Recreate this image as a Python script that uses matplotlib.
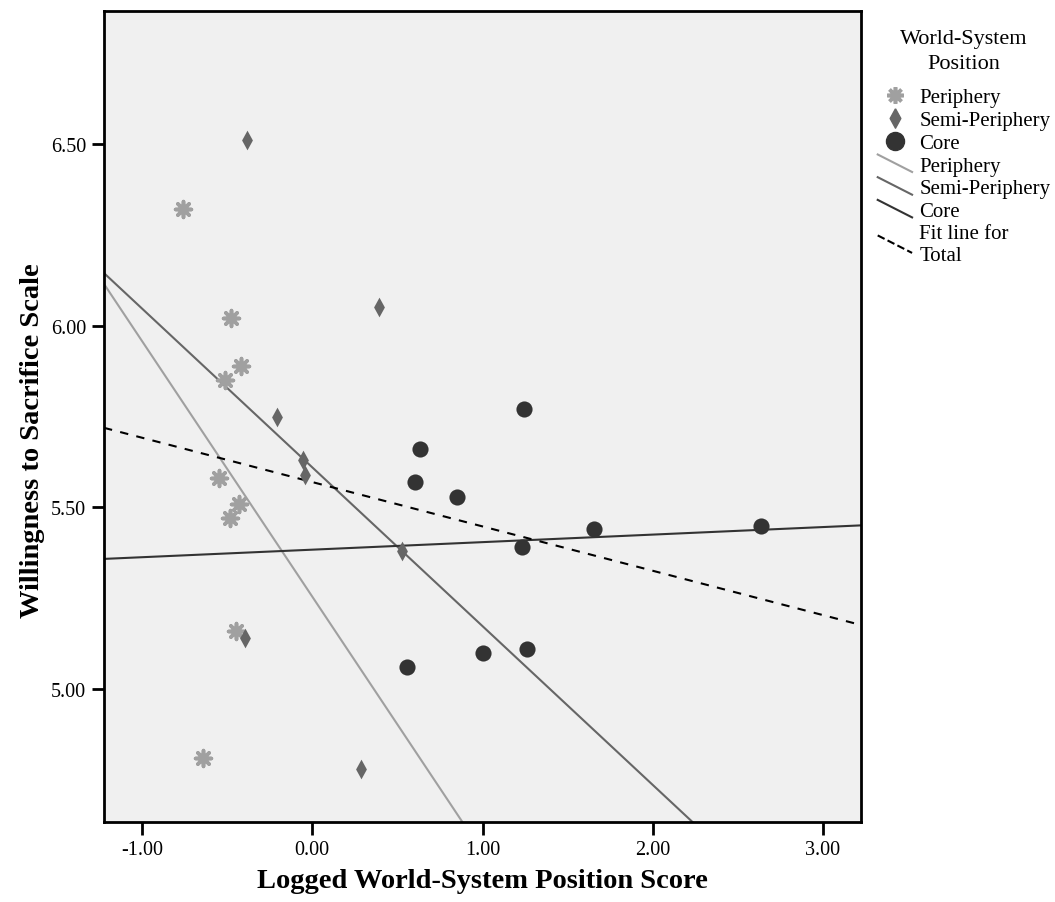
import numpy as np
import matplotlib
matplotlib.use("Agg")
import matplotlib.pyplot as plt
from matplotlib.lines import Line2D
from matplotlib.legend_handler import HandlerBase

# data
periph_x = [-0.76, -0.477, -0.419, -0.512, -0.548, -0.43, -0.483, -0.448, -0.642]
periph_y = [6.32, 6.02, 5.89, 5.85, 5.58, 5.51, 5.47, 5.16, 4.81]

semi_x = [-0.385, 0.390, -0.205, -0.053, -0.043, 0.525, -0.395, 0.285]
semi_y = [6.51, 6.05, 5.75, 5.63, 5.59, 5.38, 5.14, 4.78]

core_x = [1.242, 0.633, 0.605, 0.850, 1.653, 1.230, 1.003, 1.263, 0.558, 2.636]
core_y = [5.77, 5.66, 5.57, 5.53, 5.44, 5.39, 5.10, 5.11, 5.06, 5.45]

xticks = [-1.0, 0.0, 1.0, 2.0, 3.0]
yticks = [5.0, 5.5, 6.0, 6.5]

plt.rcParams['font.family'] = ['Liberation Serif', 'DejaVu Serif']

fig = plt.figure(figsize=(10.55, 9.03), dpi=100)
ax = fig.add_axes([0.0986, 0.0886, 0.7175, 0.8981])
ax.set_facecolor('#f0f0f0')

xlim = (-1.223, 3.223)
ylim = (4.635, 6.865)

c_per = '#a0a0a0'
c_semi = '#666666'
c_core = '#333333'

diamond = [(0, 1), (0.55, 0), (0, -1), (-0.55, 0), (0, 1)]

ax.scatter(periph_x, periph_y, marker=(8, 2, 0), s=130, color=c_per, linewidths=2.6, zorder=3)
ax.scatter(semi_x, semi_y, marker=diamond, s=200, color=c_semi, linewidths=0, zorder=3)
ax.scatter(core_x, core_y, marker='o', s=135, color=c_core, linewidths=0, zorder=3)

# group fit lines + total fit line
xs = np.array(xlim)
for gx, gy, col in [(periph_x, periph_y, c_per), (semi_x, semi_y, c_semi), (core_x, core_y, c_core)]:
    b, a = np.polyfit(gx, gy, 1)
    ax.plot(xs, a + b * xs, color=col, linewidth=1.5, zorder=2)

all_x = periph_x + semi_x + core_x
all_y = periph_y + semi_y + core_y
b, a = np.polyfit(all_x, all_y, 1)
ax.plot(xs, a + b * xs, color='black', linewidth=1.5, linestyle=(0, (4, 4)), zorder=2)

ax.set_xlim(*xlim)
ax.set_ylim(*ylim)
ax.set_xticks(xticks)
ax.set_yticks(yticks)
ax.set_xticklabels([f"{t:.2f}" for t in xticks], fontsize=14.5)
ax.set_yticklabels([f"{t:.2f}" for t in yticks], fontsize=14.5)
ax.tick_params(direction='out', length=9, width=2, color='black', pad=4)
for sp in ax.spines.values():
    sp.set_linewidth(2)
    sp.set_color('black')

ax.set_xlabel("Logged World-System Position Score", fontsize=20.5, fontweight='bold')
ax.set_ylabel("Willingness to Sacrifice Scale", fontsize=20.5, fontweight='bold')
ax.xaxis.set_label_coords(0.5, -0.057)
ax.yaxis.set_label_coords(-0.078, 0.472)


class SlantLine(HandlerBase):
    def create_artists(self, legend, orig, xd, yd, w, h, fontsize, trans):
        ln = Line2D([-xd, -xd + w], [-yd + h * 1.1, -yd - h * 0.1],
                    color=orig.get_color(), linestyle=orig.get_linestyle(),
                    linewidth=orig.get_linewidth(), transform=trans)
        return [ln]


handles = [
    Line2D([], [], marker=(8, 2, 0), markersize=12, color=c_per, markeredgewidth=2.6, linestyle='none'),
    Line2D([], [], marker=diamond, markersize=14, color=c_semi, linestyle='none'),
    Line2D([], [], marker='o', markersize=13, color=c_core, linestyle='none'),
    Line2D([], [], color=c_per, linewidth=1.5),
    Line2D([], [], color=c_semi, linewidth=1.5),
    Line2D([], [], color=c_core, linewidth=1.5),
    Line2D([], [], color='black', linewidth=1.5, linestyle=(0, (3, 4))),
]
labels = ["Periphery", "Semi-Periphery", "Core", "Periphery", "Semi-Periphery", "Core",
          "Fit line for\nTotal"]
hmap = {h: SlantLine() for h in handles[3:]}
leg = fig.legend(handles, labels, loc='upper left', bbox_to_anchor=(0.828, 0.971),
                 frameon=False, fontsize=15, title="World-System\nPosition",
                 title_fontsize=16, handlelength=1.65, handletextpad=0.35,
                 labelspacing=0.15, borderpad=0.2, borderaxespad=0, handler_map=hmap)
leg.get_title().set_multialignment('center')
leg.get_title().set_linespacing(1.37)
leg._legend_box.sep = 11

fig.savefig("out.png", dpi=100, facecolor='white')
